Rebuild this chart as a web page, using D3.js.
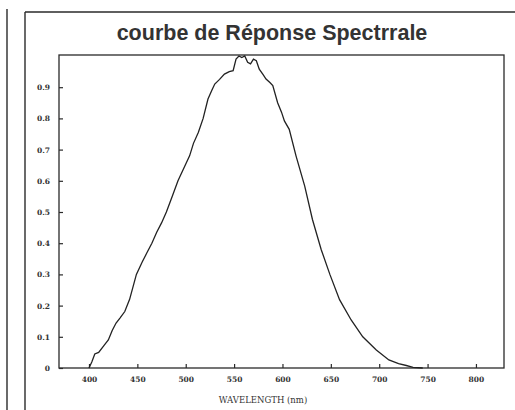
<!DOCTYPE html>
<html>
<head>
<meta charset="utf-8">
<script src="https://d3js.org/d3.v7.min.js"></script>
<style>
  body { margin: 0; background: #fff; }
</style>
</head>
<body>
<svg width="515" height="410"></svg>
<script>
// spectral response
var wavelengths = [400, 403, 406, 410, 416, 420, 424, 428, 432, 437, 442, 449, 455, 460, 465, 470, 475, 480, 486, 492,
  498, 504, 508, 513, 518, 523, 527, 530, 535, 540, 545, 549, 552, 555, 558, 561, 564, 567, 570, 573,
  576, 580, 583, 587, 590, 595, 599, 602, 607, 614, 623, 631, 640, 649, 659, 671, 683, 697, 710, 720,
  728, 735, 745]
var response = [0, 0.02, 0.045, 0.05, 0.074, 0.09, 0.12, 0.144, 0.16, 0.181, 0.22, 0.3, 0.34, 0.37, 0.4, 0.435, 0.465, 0.5, 0.55, 0.6,
  0.64, 0.68, 0.72, 0.755, 0.8, 0.862, 0.89, 0.91, 0.925, 0.942, 0.95, 0.953, 0.99, 1.0, 0.995, 1.0, 0.98, 0.975, 0.99, 0.985,
  0.958, 0.94, 0.926, 0.915, 0.905, 0.85, 0.82, 0.792, 0.765, 0.68, 0.583, 0.476, 0.38, 0.3, 0.219, 0.154, 0.1, 0.058, 0.026, 0.014,
  0.008, 0.002, 0]
var xTicks = [400, 450, 500, 550, 600, 650, 700, 750, 800]
var yTicks = [0, 0.1, 0.2, 0.3, 0.4, 0.5, 0.6, 0.7, 0.8, 0.9]

var svg = d3.select('svg')
var ink = '#2a2a2a'

// page frame lines from the scan
svg.append('line').attr('x1', 7).attr('y1', 9).attr('x2', 7).attr('y2', 410)
  .attr('stroke', ink).attr('stroke-width', 1.4)
svg.append('line').attr('x1', 25).attr('y1', 12).attr('x2', 25).attr('y2', 410)
  .attr('stroke', ink).attr('stroke-width', 1.4)
svg.append('line').attr('x1', 25).attr('y1', 12).attr('x2', 515).attr('y2', 12)
  .attr('stroke', ink).attr('stroke-width', 1.4)

// title
svg.append('text')
  .attr('x', 272).attr('y', 40)
  .attr('text-anchor', 'middle')
  .style('font-family', 'Liberation Sans, Arial, sans-serif')
  .style('font-weight', 'bold')
  .style('font-size', '21.5px')
  .attr('fill', '#333')
  .text('courbe de Réponse Spectrrale')

var plotL = 59, plotR = 504, plotT = 56, plotB = 368

var x = d3.scaleLinear().domain([369, 829]).range([plotL, plotR])
var y = d3.scaleLinear().domain([0, 1]).range([plotB, plotT])

// plot box
svg.append('rect')
  .attr('x', plotL).attr('y', plotT - 1)
  .attr('width', plotR - plotL).attr('height', plotB - plotT + 1)
  .attr('fill', 'none').attr('stroke', ink).attr('stroke-width', 1.3)

// axes, ticks pointing inward
svg.append('g')
  .attr('transform', 'translate(0,' + plotB + ')')
  .call(d3.axisBottom(x).tickValues(xTicks).tickSizeInner(-4).tickSizeOuter(0).tickPadding(9))
svg.append('g')
  .attr('transform', 'translate(' + plotL + ',0)')
  .call(d3.axisLeft(y).tickValues(yTicks).tickSizeInner(-4).tickSizeOuter(0).tickPadding(9)
    .tickFormat(function(d) { return d === 0 ? '0' : d3.format('.1f')(d) }))

svg.selectAll('.domain').remove()
svg.selectAll('.tick line').attr('stroke', ink).attr('stroke-width', 1.2)
svg.selectAll('.tick text')
  .style('font-family', 'DejaVu Serif, serif')
  .style('font-weight', 'bold')
  .style('font-size', '7.5px')
  .attr('fill', '#333')

// axis title
svg.append('text')
  .attr('x', 263).attr('y', 403)
  .attr('text-anchor', 'middle')
  .style('font-family', 'DejaVu Serif, serif')
  .style('font-size', '8.5px')
  .attr('fill', '#333')
  .text('WAVELENGTH (nm)')

// curve
var line = d3.line()
  .x(function(d, i) { return x(wavelengths[i]) })
  .y(function(d) { return y(d) })

svg.append('path')
  .attr('d', line(response))
  .attr('fill', 'none')
  .attr('stroke', '#222')
  .attr('stroke-width', 1.3)
</script>
</body>
</html>
